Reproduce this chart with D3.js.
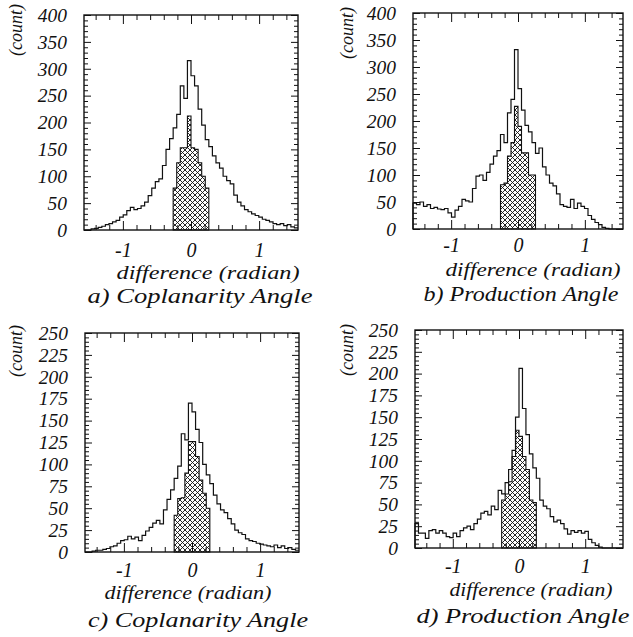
<!DOCTYPE html>
<html>
<head>
<meta charset="utf-8">
<script src="https://cdn.jsdelivr.net/npm/d3@7"></script>
<style>
  html, body { margin: 0; padding: 0; background: #fff; }
  svg { display: block; }
</style>
</head>
<body>
<svg id="fig" width="633" height="637"></svg>
<script>
// Histograms of the reconstructed-minus-true angle, 60 bins over [-pi/2, pi/2].
const binCount = 60;
const angleMin = -Math.PI / 2;
const angleMax = Math.PI / 2;
// The cross-hatched selection covers bins 25..34 (|difference| < ~0.26 rad).
const selFirstBin = 25;

const coplanarityTopAll = [
  0, 0, 2, 3, 5, 7, 10, 12, 15, 18,
  24, 28, 36, 42, 38, 40, 45, 52, 64, 78,
  90, 95, 120, 150, 170, 190, 215, 268, 245, 315,
  287, 268, 225, 195, 168, 155, 138, 125, 115, 100,
  92, 86, 65, 52, 45, 38, 34, 30, 27, 24,
  20, 18, 15, 12, 10, 12, 8, 10, 6, 4
];
const coplanarityTopSel = [78, 125, 153, 153, 212, 153, 150, 125, 100, 78];

const productionTopAll = [
  48, 45, 50, 42, 45, 38, 40, 37, 36, 38,
  30, 22, 35, 42, 55, 52, 50, 75, 98, 100,
  90, 105, 120, 135, 145, 175, 160, 215, 240, 332,
  260, 220, 192, 180, 160, 140, 150, 115, 100, 85,
  80, 65, 45, 42, 40, 55, 38, 48, 42, 38,
  25, 18, 12, 8, 3, 1, 0, 0, 0, 0
];
const productionTopSel = [82, 85, 135, 160, 227, 190, 141, 141, 100, 100];

const coplanarityBottomAll = [
  0, 0, 1, 2, 2, 3, 4, 6, 7, 10,
  13, 14, 18, 15, 17, 13, 19, 24, 28, 33,
  36, 32, 48, 60, 71, 84, 98, 135, 128, 170,
  160, 140, 125, 100, 88, 78, 65, 55, 48, 45,
  38, 32, 25, 22, 20, 15, 13, 12, 10, 9,
  8, 7, 6, 8, 5, 7, 4, 5, 3, 2
];
const coplanarityBottomSel = [42, 61, 62, 90, 126, 126, 109, 82, 67, 50];

const productionBottomAll = [
  28, 17, 17, 11, 20, 21, 17, 20, 17, 13,
  12, 17, 13, 20, 23, 25, 21, 28, 33, 40,
  42, 38, 48, 44, 66, 62, 75, 90, 112, 150,
  206, 160, 130, 108, 92, 80, 55, 48, 45, 36,
  30, 32, 28, 22, 16, 20, 18, 20, 17, 19,
  10, 6, 3, 1, 0, 0, 0, 0, 0, 0
];
const productionBottomSel = [55, 62, 76, 105, 135, 128, 105, 90, 55, 52];

const countTicksTop = [0, 50, 100, 150, 200, 250, 300, 350, 400];
const countTicksBottom = [0, 25, 50, 75, 100, 125, 150, 175, 200, 225, 250];
const angleTicks = [-1, 0, 1];

const xTitle = "difference (radian)";
const yTitle = "(count)";
const captions = [
  "a) Coplanarity Angle",
  "b) Production Angle",
  "c) Coplanarity Angle",
  "d) Production Angle"
];

// Panel geometry (frame box, tick label gap and text anchors), in page pixels.
const panels = [
  { all: coplanarityTopAll, sel: coplanarityTopSel, ticks: countTicksTop, minorStep: 10,
    box: [84, 15, 298, 230], xPad: 13, xT: [208, 279, 183], cap: [200, 303, 225], yT: [22, 30] },
  { all: productionTopAll, sel: productionTopSel, ticks: countTicksTop, minorStep: 10,
    box: [413, 13, 623, 229], xPad: 9, xT: [533, 276, 175], cap: [521, 301, 195], yT: [353, 33] },
  { all: coplanarityBottomAll, sel: coplanarityBottomSel, ticks: countTicksBottom, minorStep: 5,
    box: [85, 333, 299, 552], xPad: 11, xT: [188, 599, 167], cap: [198, 627, 220], yT: [22, 351] },
  { all: productionBottomAll, sel: productionBottomSel, ticks: countTicksBottom, minorStep: 5,
    box: [415, 330, 623, 548], xPad: 11, xT: [531, 596, 163], cap: [523, 623, 213], yT: [353, 350] }
];

const FONT = '"Liberation Serif", "Times New Roman", Times, serif';
const serifItalic = (sel, size) => sel
  .attr("font-family", FONT)
  .attr("font-style", "italic")
  .attr("font-size", size)
  .style("font-family", FONT)
  .style("font-style", "italic")
  .style("font-size", size + "px")
  .style("fill", "#111");

const svg = d3.select("#fig");

// Cross-hatch fill for the selected events.
const hs = 5;
svg.append("defs").append("pattern")
  .attr("id", "xhatch")
  .attr("patternUnits", "userSpaceOnUse")
  .attr("width", hs).attr("height", hs)
  .append("path")
  .attr("d", `M-1,1 l2,-2 M0,${hs} l${hs},${-hs} M${hs - 1},${hs + 1} l2,-2 ` +
             `M-1,${hs - 1} l2,2 M0,0 l${hs},${hs} M${hs - 1},-1 l2,2`)
  .attr("stroke", "#111")
  .attr("stroke-width", 0.9)
  .attr("fill", "none");

const binWidth = (angleMax - angleMin) / binCount;
const edge = i => angleMin + i * binWidth;

const minorAngles = d3.range(-7, 8).map(k => +(k * 0.2).toFixed(1))
  .filter(v => Math.abs(v - Math.round(v)) > 1e-6);

panels.forEach((p, idx) => {
  const [x0, y0, x1, y1] = p.box;
  const yMax = p.ticks[p.ticks.length - 1];
  const x = d3.scaleLinear().domain([angleMin, angleMax]).range([x0, x1]);
  const y = d3.scaleLinear().domain([0, yMax]).range([y1, y0]);
  const g = svg.append("g");

  const minorCounts = d3.range(0, yMax + 0.001, p.minorStep).filter(v => !p.ticks.includes(v));

  // Ticks point inward on all four sides.
  const tidy = (s, size) => {
    s.select(".domain").remove();
    s.selectAll(".tick line").attr("stroke", "#111").attr("stroke-width", 1);
    serifItalic(s.selectAll("text"), size || 19);
  };

  g.append("g").attr("transform", `translate(${x0},0)`)
    .call(d3.axisLeft(y).tickValues(p.ticks).tickSizeInner(-7).tickSizeOuter(0).tickPadding(17)
      .tickFormat(d3.format("d")))
    .call(tidy, 19.5);
  g.append("g").attr("transform", `translate(${x0},0)`)
    .call(d3.axisLeft(y).tickValues(minorCounts).tickSizeInner(-4).tickSizeOuter(0).tickFormat(""))
    .call(tidy);
  g.append("g").attr("transform", `translate(${x1},0)`)
    .call(d3.axisRight(y).tickValues(p.ticks).tickSizeInner(-7).tickSizeOuter(0).tickFormat(""))
    .call(tidy);
  g.append("g").attr("transform", `translate(${x1},0)`)
    .call(d3.axisRight(y).tickValues(minorCounts).tickSizeInner(-4).tickSizeOuter(0).tickFormat(""))
    .call(tidy);

  g.append("g").attr("transform", `translate(0,${y1})`)
    .call(d3.axisBottom(x).tickValues(angleTicks).tickSizeInner(-9).tickSizeOuter(0).tickPadding(p.xPad)
      .tickFormat(d => String(d)))
    .call(tidy, 20);
  g.append("g").attr("transform", `translate(0,${y1})`)
    .call(d3.axisBottom(x).tickValues(minorAngles).tickSizeInner(-5).tickSizeOuter(0).tickFormat(""))
    .call(tidy);
  g.append("g").attr("transform", `translate(0,${y0})`)
    .call(d3.axisTop(x).tickValues(angleTicks).tickSizeInner(-9).tickSizeOuter(0).tickFormat(""))
    .call(tidy);
  g.append("g").attr("transform", `translate(0,${y0})`)
    .call(d3.axisTop(x).tickValues(minorAngles).tickSizeInner(-5).tickSizeOuter(0).tickFormat(""))
    .call(tidy);

  // Selected events: cross-hatched step histogram.
  const selPts = p.sel.map((v, k) => [edge(selFirstBin + k), v]);
  selPts.push([edge(selFirstBin + p.sel.length), p.sel[p.sel.length - 1]]);
  g.append("path")
    .datum(selPts)
    .attr("d", d3.area().curve(d3.curveStepAfter)
      .x(d => x(d[0])).y0(y(0)).y1(d => y(d[1])))
    .attr("fill", "url(#xhatch)")
    .attr("stroke", "#111")
    .attr("stroke-width", 1.1);

  // All events: outline step histogram.
  const allPts = [[edge(0), 0]].concat(p.all.map((v, k) => [edge(k), v]));
  allPts.push([edge(binCount), p.all[binCount - 1]]);
  g.append("path")
    .datum(allPts)
    .attr("d", d3.line().curve(d3.curveStepAfter).x(d => x(d[0])).y(d => y(d[1])))
    .attr("fill", "none")
    .attr("stroke", "#111")
    .attr("stroke-width", 1.2);

  // Frame.
  g.append("rect")
    .attr("x", x0).attr("y", y0)
    .attr("width", x1 - x0).attr("height", y1 - y0)
    .attr("fill", "none").attr("stroke", "#111").attr("stroke-width", 1.4);

  // Axis titles and caption.
  g.append("text")
    .attr("x", p.xT[0]).attr("y", p.xT[1])
    .attr("text-anchor", "middle")
    .attr("textLength", p.xT[2]).attr("lengthAdjust", "spacingAndGlyphs")
    .text(xTitle)
    .call(serifItalic, 19);
  g.append("text")
    .attr("x", p.cap[0]).attr("y", p.cap[1])
    .attr("text-anchor", "middle")
    .attr("textLength", p.cap[2]).attr("lengthAdjust", "spacingAndGlyphs")
    .text(captions[idx])
    .call(serifItalic, 21);
  g.append("text")
    .attr("transform", `translate(${p.yT[0]},${p.yT[1]}) rotate(-90)`)
    .attr("text-anchor", "middle")
    .text(yTitle)
    .call(serifItalic, 18);
});
</script>
</body>
</html>
